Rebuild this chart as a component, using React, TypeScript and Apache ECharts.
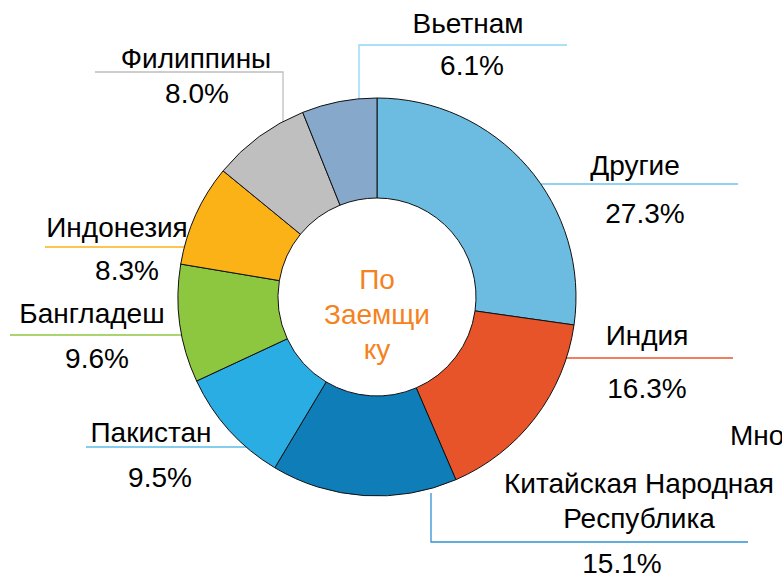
import React, { useEffect, useRef } from "react";
import * as echarts from "echarts";

// ---- data ----
const categories: string[] = [
  "Другие",
  "Индия",
  "Китайская Народная\nРеспублика",
  "Пакистан",
  "Бангладеш",
  "Индонезия",
  "Филиппины",
  "Вьетнам",
];
const shares: number[] = [27.3, 16.3, 15.1, 9.5, 9.6, 8.3, 8.0, 6.1];
const centerTitle = "По\nЗаемщи\nку";
const cutTitle = "Мно";

// ---- styles / layout ----
const sliceColors = ["#6CBBE1", "#E8542A", "#0E7DB8", "#29ADE3", "#8DC63F", "#FBB216", "#BFBFBF", "#86A8CB"];
const lineColors = ["#6CC4EC", "#E8542A", "#2E93D3", "#5BBDE6", "#8DC63F", "#FBB216", "#BFBFBF", "#8ED8F8"];
const FONT = "'Liberation Sans', Arial, sans-serif";

type Pos = { x: number; nameY: number; pctY: number; pctDx: number; name2Gap?: number; pts: number[][] };
const labelPos: Pos[] = [
  { x: 635, nameY: 165, pctY: 213, pctDx: 10, pts: [[541, 184], [541, 184], [738, 184]] },
  { x: 647, nameY: 335, pctY: 388, pctDx: 0, pts: [[566, 358], [566, 358], [733, 358]] },
  { x: 639, nameY: 483, pctY: 563, pctDx: -17, name2Gap: 35, pts: [[431, 493], [431, 542], [748, 542]] },
  { x: 151, nameY: 432, pctY: 477, pctDx: 9, pts: [[246, 447], [246, 447], [86, 447]] },
  { x: 92, nameY: 313, pctY: 358, pctDx: 5, pts: [[182, 335], [182, 335], [10, 335]] },
  { x: 117, nameY: 227, pctY: 270, pctDx: 10, pts: [[184, 247], [184, 247], [45, 247]] },
  { x: 196, nameY: 58, pctY: 93, pctDx: 1, pts: [[283, 122], [283, 72], [95, 72]] },
  { x: 468, nameY: 23, pctY: 65, pctDx: 4, pts: [[359, 99], [359, 45], [567, 45]] },
];

function blockFor(p: Pos, lines: number) {
  // returns lineHeights and label centre y
  if (lines === 1) {
    const d = p.pctY - p.nameY;
    return { a: d, b: d, cy: (p.nameY + p.pctY) / 2 };
  }
  const a = p.name2Gap || 35;
  const lastNameY = p.nameY + a * (lines - 1);
  const b = 2 * (p.pctY - lastNameY) - a;
  const top = p.nameY - a / 2;
  const h = a * lines + b;
  return { a, b, cy: top + h / 2 };
}

export default function App() {
  const ref = useRef<HTMLDivElement>(null);
  useEffect(() => {
    if (!ref.current) return;
    const chart = echarts.init(ref.current, undefined, { renderer: "svg" });
    const centers: number[] = [];
    const data = categories.map((name, i) => {
      const p = labelPos[i];
      const nLines = name.split("\n").length;
      const blk = blockFor(p, nLines);
      centers.push(blk.cy);
      const pad = p.pctDx >= 0 ? [0, 0, 0, 2 * p.pctDx] : [0, -2 * p.pctDx, 0, 0];
      return {
        name,
        value: shares[i],
        itemStyle: { color: sliceColors[i] },
        labelLine: { lineStyle: { color: lineColors[i], width: 1.3 } },
        label: {
          rich: {
            n: { fontFamily: FONT, fontSize: 28, color: "#000", lineHeight: blk.a, align: "center" },
            p: { fontFamily: FONT, fontSize: 28, color: "#000", lineHeight: blk.b, align: "center", padding: pad },
          },
        },
      };
    });
    chart.setOption({
      animation: false,
      backgroundColor: "#fff",
      graphic: [
        {
          type: "text",
          x: 377,
          y: 314,
          style: {
            text: centerTitle,
            fill: "#F58220",
            font: `28px ${FONT}`,
            lineHeight: 35,
            align: "center",
            verticalAlign: "middle",
          },
        },
        {
          type: "text",
          x: 730,
          y: 435,
          style: { text: cutTitle, fill: "#000", font: `28px ${FONT}`, align: "left", verticalAlign: "middle" },
        },
      ],
      series: [
        {
          type: "pie",
          center: [377, 297],
          radius: [99, 199],
          startAngle: 90,
          clockwise: true,
          avoidLabelOverlap: false,
          itemStyle: { borderColor: "#111", borderWidth: 1 },
          emphasis: { disabled: true },
          label: {
            show: true,
            position: "outside",
            formatter: (params: any) => {
              const nm = String(params.name)
                .split("\n")
                .map((s: string) => `{n|${s}}`)
                .join("\n");
              return `${nm}\n{p|${Number(params.value).toFixed(1)}%}`;
            },
          },
          labelLine: { show: true, smooth: false, length: 10, length2: 10 },
          labelLayout: (params: any) => {
            const i = params.dataIndex;
            const p = labelPos[i];
            return {
              x: p.x,
              y: centers[i],
              align: "center",
              verticalAlign: "middle",
              labelLinePoints: p.pts,
            };
          },
          data,
        },
      ],
    });
    return () => chart.dispose();
  }, []);
  return (
    <div
      ref={ref}
      style={{ position: "fixed", left: 0, top: 0, width: 782, height: 573, background: "#fff" }}
    />
  );
}
